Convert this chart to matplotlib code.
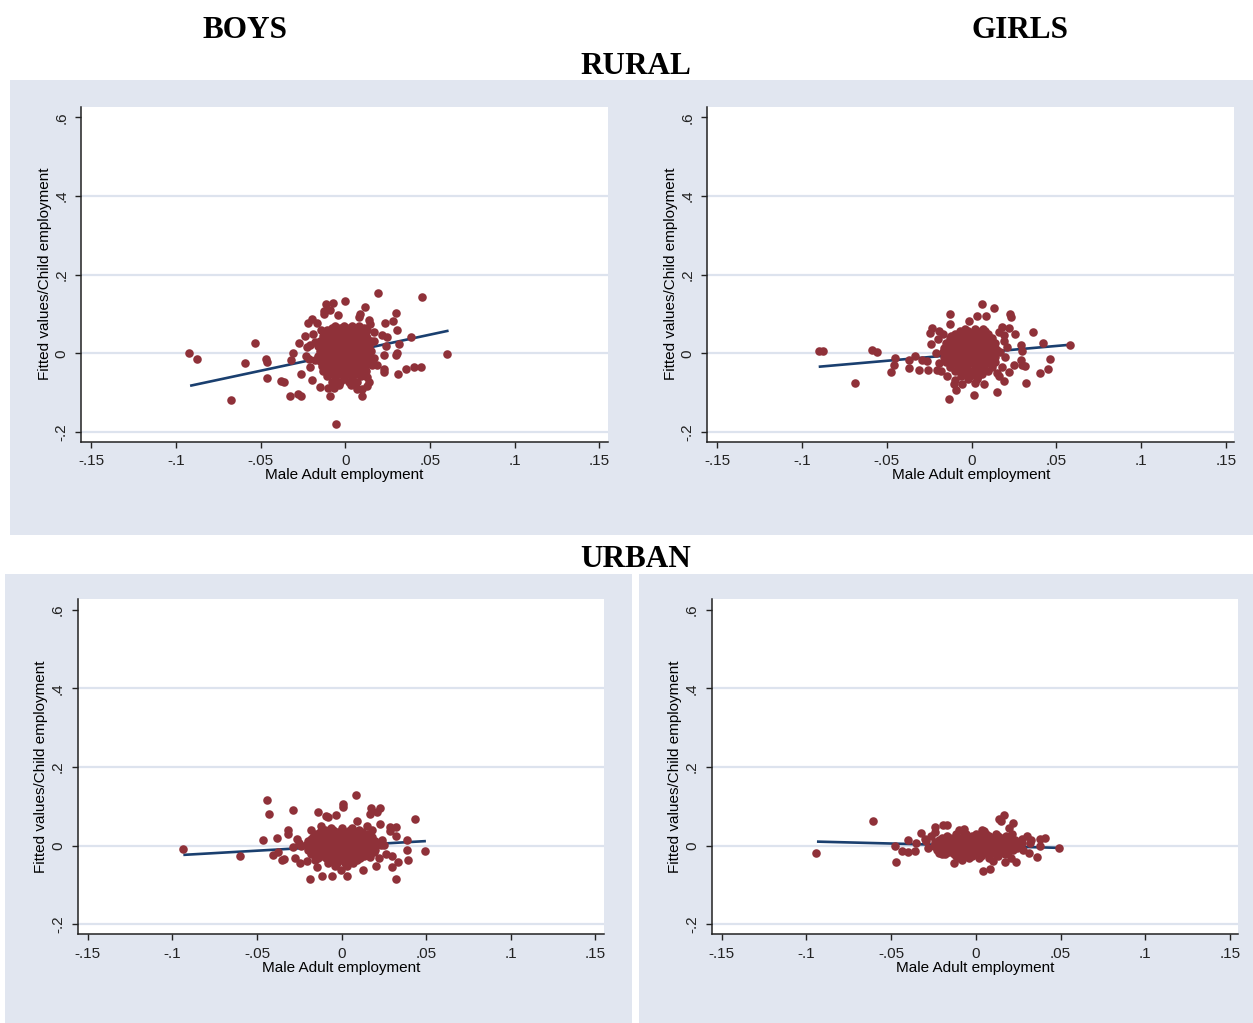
import matplotlib.pyplot as plt
from matplotlib.patches import Rectangle
import numpy as np

BG = "#e1e6f0"
GRID = "#dde3ee"
MAROON = "#8f3139"
NAVY = "#1a3f6f"

x_ticks = [-0.15, -0.1, -0.05, 0, 0.05, 0.1, 0.15]
x_tick_labels = ["-.15", "-.1", "-.05", "0", ".05", ".1", ".15"]
y_ticks = [-0.2, 0, 0.2, 0.4, 0.6]
y_tick_labels = ["-.2", "0", ".2", ".4", ".6"]
grid_levels = [-0.2, 0, 0.2, 0.4]
x_title = "Male Adult employment"
y_title = "Fitted values/Child employment"

# (male adult employment, child employment)
rural_boys = [
    (-0.0922, 0.000), (-0.0876, -0.014), (-0.0678, -0.120), (-0.0593, -0.025), (-0.0532, 0.027),
    (-0.0470, -0.014), (-0.0462, -0.022), (-0.0465, -0.064), (-0.0379, -0.071), (-0.0364, -0.073),
    (-0.0325, -0.109), (-0.0280, -0.104), (-0.0262, -0.109), (-0.0321, -0.018), (-0.0309, 0.000),
    (-0.0276, 0.027), (-0.0264, -0.054), (-0.0240, 0.044), (-0.0219, 0.078), (-0.0195, 0.086),
    (-0.0169, 0.078), (-0.0193, 0.048), (-0.0228, 0.016), (-0.0232, -0.008), (-0.0212, -0.036),
    (-0.0200, -0.069), (-0.0153, -0.086), (-0.0128, 0.100), (-0.0126, 0.107), (-0.0112, 0.126),
    (-0.0073, 0.128), (-0.0090, 0.111), (-0.0045, 0.098), (-0.0004, 0.134), (-0.0147, 0.058),
    (-0.0102, -0.088), (-0.0092, -0.109), (-0.0065, -0.088), (-0.0057, -0.180), (0.0069, -0.092),
    (0.0100, -0.092), (0.0097, -0.109), (0.0128, -0.083), (0.0138, -0.074), (0.0113, 0.117),
    (0.0089, 0.100), (0.0081, 0.092), (0.0138, 0.085), (0.0144, 0.075), (0.0191, 0.153),
    (0.0455, 0.143), (0.0298, 0.103), (0.0280, 0.081), (0.0233, 0.078), (0.0306, 0.058),
    (0.0168, 0.054), (0.0217, 0.046), (0.0246, 0.042), (0.0388, 0.042), (0.0317, 0.023),
    (0.0302, 0.001), (0.0298, -0.005), (0.0240, 0.018), (0.0230, -0.005), (0.0226, -0.041),
    (0.0230, -0.047), (0.0171, -0.011), (0.0187, -0.031), (0.0158, -0.031), (0.0118, -0.039),
    (0.0128, -0.060), (0.0313, -0.053), (0.0356, -0.039), (0.0403, -0.035), (0.0445, -0.035),
    (0.0601, -0.003), (0.0168, 0.031), (0.0108, 0.058), (-0.0207, 0.020), (-0.0177, 0.029),
    (-0.0177, -0.018), (-0.0216, -0.014),
    # dense core
    (-0.006, 0.070), (-0.001, 0.070), (0.004, 0.070), (0.008, 0.070),
    (-0.008, 0.064), (-0.003, 0.064), (0.002, 0.064), (0.006, 0.064), (0.011, 0.064),
    (-0.011, 0.058), (-0.006, 0.058), (-0.001, 0.058), (0.004, 0.058), (0.009, 0.058), (0.013, 0.058),
    (-0.010, 0.051), (-0.005, 0.051), (0.000, 0.051), (0.005, 0.051), (0.010, 0.051),
    (-0.013, 0.045), (-0.008, 0.045), (-0.003, 0.045), (0.002, 0.045), (0.007, 0.045), (0.012, 0.045),
    (-0.012, 0.038), (-0.007, 0.038), (-0.002, 0.038), (0.003, 0.038), (0.008, 0.038), (0.013, 0.038),
    (-0.015, 0.032), (-0.010, 0.032), (-0.005, 0.032), (0.000, 0.032), (0.005, 0.032), (0.010, 0.032), (0.015, 0.032),
    (-0.013, 0.025), (-0.008, 0.025), (-0.003, 0.025), (0.002, 0.025), (0.007, 0.025), (0.012, 0.025),
    (-0.016, 0.019), (-0.011, 0.019), (-0.006, 0.019), (-0.001, 0.019), (0.004, 0.019), (0.009, 0.019), (0.014, 0.019),
    (-0.013, 0.012), (-0.008, 0.012), (-0.003, 0.012), (0.002, 0.012), (0.007, 0.012), (0.012, 0.012),
    (-0.015, 0.006), (-0.010, 0.006), (-0.005, 0.006), (0.000, 0.006), (0.005, 0.006), (0.010, 0.006), (0.015, 0.006),
    (-0.013, -0.001), (-0.008, -0.001), (-0.003, -0.001), (0.002, -0.001), (0.007, -0.001), (0.012, -0.001),
    (-0.016, -0.007), (-0.011, -0.007), (-0.006, -0.007), (-0.001, -0.007), (0.004, -0.007), (0.009, -0.007), (0.014, -0.007),
    (-0.013, -0.014), (-0.008, -0.014), (-0.003, -0.014), (0.002, -0.014), (0.007, -0.014), (0.012, -0.014),
    (-0.015, -0.020), (-0.010, -0.020), (-0.005, -0.020), (0.000, -0.020), (0.005, -0.020), (0.010, -0.020), (0.015, -0.020),
    (-0.012, -0.027), (-0.007, -0.027), (-0.002, -0.027), (0.003, -0.027), (0.008, -0.027), (0.013, -0.027),
    (-0.014, -0.033), (-0.009, -0.033), (-0.004, -0.033), (0.001, -0.033), (0.006, -0.033), (0.011, -0.033),
    (-0.011, -0.040), (-0.006, -0.040), (-0.001, -0.040), (0.004, -0.040), (0.009, -0.040),
    (-0.013, -0.046), (-0.008, -0.046), (-0.003, -0.046), (0.002, -0.046), (0.007, -0.046), (0.012, -0.046),
    (-0.009, -0.053), (-0.004, -0.053), (0.001, -0.053), (0.006, -0.053), (0.011, -0.053),
    (-0.011, -0.059), (-0.006, -0.059), (-0.001, -0.059), (0.004, -0.059), (0.009, -0.059),
    (-0.006, -0.066), (-0.001, -0.066), (0.004, -0.066),
    (-0.008, -0.072), (-0.003, -0.072), (0.002, -0.072), (0.007, -0.072),
    (-0.004, -0.080), (0.003, -0.080),
]
rural_boys_fit = [(-0.0917, -0.0827), (0.0609, 0.0574)]

rural_girls = [
    (-0.0899, 0.005), (-0.0878, 0.005), (-0.0688, -0.076), (-0.0586, 0.009), (-0.0555, 0.003),
    (-0.0452, -0.013), (-0.0458, -0.030), (-0.0478, -0.047), (-0.0371, -0.018), (-0.0371, -0.038),
    (-0.0335, -0.006), (-0.0311, -0.043), (-0.0256, -0.043), (-0.0201, -0.043), (-0.0292, -0.016),
    (-0.0262, -0.020), (-0.0240, 0.023), (-0.0243, 0.051), (-0.0231, 0.065), (-0.0195, 0.057),
    (-0.0130, 0.099), (-0.0126, 0.075), (-0.0146, -0.058), (-0.0132, -0.117), (-0.0095, -0.067),
    (-0.0101, -0.079), (-0.0093, -0.094), (-0.0059, -0.079), (0.0022, -0.076), (0.0016, -0.106),
    (0.0075, -0.079), (0.0061, 0.124), (0.0130, 0.116), (0.0088, 0.095), (0.0030, 0.095),
    (-0.0016, 0.082), (0.0225, 0.099), (0.0235, 0.093), (0.0149, -0.099), (0.0190, -0.070),
    (0.0163, -0.057), (0.0222, -0.047), (0.0250, -0.031), (0.0254, 0.049), (0.0293, 0.022),
    (0.0300, 0.007), (0.0293, -0.016), (0.0300, -0.030), (0.0313, -0.032), (0.0323, -0.075),
    (0.0363, 0.054), (0.0420, 0.027), (0.0462, -0.014), (0.0450, -0.039), (0.0404, -0.050),
    (0.0582, 0.022), (0.0190, 0.046), (0.0180, 0.067), (0.0220, 0.063),
    (-0.020, 0.035), (-0.021, 0.000), (-0.019, -0.025), (0.019, 0.030), (0.020, -0.010),
    (0.021, 0.015), (0.018, -0.035), (-0.017, 0.050), (0.016, 0.055), (-0.018, -0.045), (0.015, -0.050),
    # dense core
    (-0.004, 0.062), (0.002, 0.062), (0.007, 0.062),
    (-0.007, 0.056), (-0.002, 0.056), (0.003, 0.056), (0.008, 0.056),
    (-0.010, 0.050), (-0.005, 0.050), (0.000, 0.050), (0.005, 0.050), (0.010, 0.050),
    (-0.012, 0.044), (-0.007, 0.044), (-0.002, 0.044), (0.003, 0.044), (0.008, 0.044),
    (-0.013, 0.038), (-0.008, 0.038), (-0.003, 0.038), (0.002, 0.038), (0.007, 0.038), (0.012, 0.038),
    (-0.012, 0.032), (-0.007, 0.032), (-0.002, 0.032), (0.003, 0.032), (0.008, 0.032), (0.012, 0.032),
    (-0.015, 0.026), (-0.010, 0.026), (-0.005, 0.026), (0.000, 0.026), (0.005, 0.026), (0.010, 0.026), (0.014, 0.026),
    (-0.013, 0.020), (-0.008, 0.020), (-0.003, 0.020), (0.002, 0.020), (0.007, 0.020), (0.012, 0.020),
    (-0.016, 0.014), (-0.011, 0.014), (-0.006, 0.014), (-0.001, 0.014), (0.004, 0.014), (0.009, 0.014), (0.014, 0.014),
    (-0.014, 0.008), (-0.009, 0.008), (-0.004, 0.008), (0.001, 0.008), (0.006, 0.008), (0.011, 0.008), (0.015, 0.008),
    (-0.017, 0.002), (-0.012, 0.002), (-0.007, 0.002), (-0.002, 0.002), (0.003, 0.002), (0.008, 0.002), (0.013, 0.002), (0.017, 0.002),
    (-0.014, -0.004), (-0.009, -0.004), (-0.004, -0.004), (0.001, -0.004), (0.006, -0.004), (0.011, -0.004),
    (-0.016, -0.010), (-0.011, -0.010), (-0.006, -0.010), (-0.001, -0.010), (0.004, -0.010), (0.009, -0.010), (0.014, -0.010),
    (-0.013, -0.016), (-0.008, -0.016), (-0.003, -0.016), (0.002, -0.016), (0.007, -0.016), (0.012, -0.016),
    (-0.015, -0.022), (-0.010, -0.022), (-0.005, -0.022), (0.000, -0.022), (0.005, -0.022), (0.010, -0.022), (0.014, -0.022),
    (-0.012, -0.028), (-0.007, -0.028), (-0.002, -0.028), (0.003, -0.028), (0.008, -0.028), (0.012, -0.028),
    (-0.013, -0.034), (-0.008, -0.034), (-0.003, -0.034), (0.002, -0.034), (0.007, -0.034), (0.012, -0.034),
    (-0.008, -0.040), (-0.003, -0.040), (0.002, -0.040), (0.007, -0.040),
    (-0.010, -0.046), (-0.005, -0.046), (0.000, -0.046), (0.005, -0.046), (0.010, -0.046),
    (-0.004, -0.052), (0.001, -0.052), (0.006, -0.052),
    (-0.006, -0.058), (-0.001, -0.058), (0.004, -0.058),
    (-0.002, -0.066), (0.003, -0.066),
]
rural_girls_fit = [(-0.0902, -0.0343), (0.0578, 0.0215)]

urban_boys = [
    (-0.0938, -0.009), (-0.0599, -0.027), (-0.0440, 0.115), (-0.0431, 0.080), (-0.0467, 0.014),
    (-0.0381, 0.020), (-0.0405, -0.024), (-0.0377, -0.015), (-0.0355, -0.036), (-0.0341, -0.033),
    (-0.0319, 0.031), (-0.0319, 0.041), (-0.0290, 0.090), (-0.0262, 0.016), (-0.0252, 0.008),
    (-0.0287, -0.002), (-0.0273, -0.031), (-0.0245, -0.044), (-0.0203, -0.038), (-0.0186, -0.085),
    (-0.0142, 0.087), (-0.0144, -0.054), (-0.0114, -0.076), (-0.0058, -0.076), (-0.0095, 0.075),
    (-0.0079, 0.073), (-0.0035, 0.079), (0.0011, 0.106), (0.0011, 0.098), (0.0087, 0.130),
    (0.0029, -0.076), (-0.0001, -0.061), (0.0124, -0.061), (0.0089, 0.062), (0.0172, 0.095),
    (0.0168, 0.081), (0.0226, 0.095), (0.0212, 0.087), (0.0228, 0.056), (0.0285, 0.047),
    (0.0322, 0.047), (0.0285, 0.037), (0.0324, 0.024), (0.0300, -0.025), (0.0300, -0.053),
    (0.0336, -0.041), (0.0320, -0.085), (0.0387, 0.015), (0.0385, -0.012), (0.0391, -0.036),
    (0.0433, 0.068), (0.0492, -0.014), (0.0251, 0.003), (0.0261, -0.020), (0.0201, -0.051),
    (0.0168, -0.028),
    (-0.018, 0.040), (-0.016, -0.035), (0.018, 0.040), (0.022, -0.030), (0.015, 0.050),
    (-0.012, 0.050), (0.024, 0.015), (-0.024, 0.000),
    # dense core
    (-0.006, 0.045), (0.000, 0.045), (0.006, 0.045),
    (-0.010, 0.040), (-0.005, 0.040), (0.000, 0.040), (0.005, 0.040), (0.010, 0.040),
    (-0.013, 0.034), (-0.008, 0.034), (-0.003, 0.034), (0.002, 0.034), (0.007, 0.034), (0.012, 0.034),
    (-0.015, 0.029), (-0.010, 0.029), (-0.005, 0.029), (0.000, 0.029), (0.005, 0.029), (0.010, 0.029), (0.015, 0.029),
    (-0.017, 0.023), (-0.012, 0.023), (-0.007, 0.023), (-0.002, 0.023), (0.003, 0.023), (0.008, 0.023), (0.013, 0.023), (0.018, 0.023),
    (-0.018, 0.018), (-0.013, 0.018), (-0.008, 0.018), (-0.003, 0.018), (0.002, 0.018), (0.007, 0.018), (0.012, 0.018), (0.017, 0.018),
    (-0.020, 0.012), (-0.015, 0.012), (-0.010, 0.012), (-0.005, 0.012), (0.000, 0.012), (0.005, 0.012), (0.010, 0.012), (0.015, 0.012), (0.020, 0.012),
    (-0.018, 0.007), (-0.013, 0.007), (-0.008, 0.007), (-0.003, 0.007), (0.002, 0.007), (0.007, 0.007), (0.012, 0.007), (0.017, 0.007), (0.022, 0.007),
    (-0.021, 0.001), (-0.016, 0.001), (-0.011, 0.001), (-0.006, 0.001), (-0.001, 0.001), (0.004, 0.001), (0.009, 0.001), (0.014, 0.001), (0.019, 0.001), (0.023, 0.001),
    (-0.018, -0.004), (-0.013, -0.004), (-0.008, -0.004), (-0.003, -0.004), (0.002, -0.004), (0.007, -0.004), (0.012, -0.004), (0.017, -0.004),
    (-0.020, -0.010), (-0.015, -0.010), (-0.010, -0.010), (-0.005, -0.010), (0.000, -0.010), (0.005, -0.010), (0.010, -0.010), (0.015, -0.010), (0.020, -0.010),
    (-0.016, -0.015), (-0.011, -0.015), (-0.006, -0.015), (-0.001, -0.015), (0.004, -0.015), (0.009, -0.015), (0.014, -0.015), (0.019, -0.015),
    (-0.018, -0.021), (-0.013, -0.021), (-0.008, -0.021), (-0.003, -0.021), (0.002, -0.021), (0.007, -0.021), (0.012, -0.021), (0.017, -0.021),
    (-0.012, -0.026), (-0.007, -0.026), (-0.002, -0.026), (0.003, -0.026), (0.008, -0.026), (0.013, -0.026),
    (-0.014, -0.032), (-0.009, -0.032), (-0.004, -0.032), (0.001, -0.032), (0.006, -0.032), (0.011, -0.032),
    (-0.006, -0.037), (-0.001, -0.037), (0.004, -0.037), (0.009, -0.037),
    (-0.008, -0.043), (-0.003, -0.043), (0.002, -0.043), (0.007, -0.043),
    (-0.004, -0.052), (0.003, -0.052),
]
urban_boys_fit = [(-0.0935, -0.0232), (0.0498, 0.0118)]

urban_girls = [
    (-0.0943, -0.019), (-0.0608, 0.063), (-0.0469, -0.042), (-0.0475, 0.000), (-0.0434, -0.013),
    (-0.0398, -0.017), (-0.0400, 0.014), (-0.0361, -0.014), (-0.0353, 0.008), (-0.0322, 0.032),
    (-0.0292, 0.011), (-0.0266, 0.025), (-0.0243, 0.047), (-0.0239, 0.036), (-0.0194, 0.052),
    (-0.0168, 0.052), (-0.0197, -0.021), (-0.0130, -0.044), (-0.0073, 0.043), (0.0040, -0.065),
    (0.0083, -0.058), (0.0038, 0.041), (0.0138, 0.068), (0.0166, 0.077), (0.0148, 0.064),
    (0.0221, 0.059), (0.0197, 0.044), (0.0213, 0.030), (0.0172, -0.042), (0.0205, -0.031),
    (0.0237, -0.042), (0.0300, 0.026), (0.0326, 0.015), (0.0320, 0.008), (0.0376, 0.017),
    (0.0410, 0.020), (0.0379, 0.000), (0.0312, -0.019), (0.0363, -0.028), (0.0488, -0.006),
    (0.0270, 0.008),
    (-0.028, -0.005), (-0.030, 0.018), (-0.022, -0.018), (0.028, -0.010), (0.027, 0.018),
    (0.010, -0.040), (-0.008, -0.035), (-0.010, 0.040), (0.005, 0.038),
    # dense core
    (-0.012, 0.030), (-0.006, 0.030), (0.000, 0.030), (0.006, 0.030), (0.012, 0.030),
    (-0.017, 0.025), (-0.012, 0.025), (-0.007, 0.025), (-0.002, 0.025), (0.003, 0.025), (0.008, 0.025), (0.013, 0.025), (0.018, 0.025),
    (-0.020, 0.020), (-0.015, 0.020), (-0.010, 0.020), (-0.005, 0.020), (0.000, 0.020), (0.005, 0.020), (0.010, 0.020), (0.015, 0.020), (0.020, 0.020),
    (-0.022, 0.015), (-0.017, 0.015), (-0.012, 0.015), (-0.007, 0.015), (-0.002, 0.015), (0.003, 0.015), (0.008, 0.015), (0.013, 0.015), (0.018, 0.015), (0.023, 0.015),
    (-0.024, 0.010), (-0.019, 0.010), (-0.014, 0.010), (-0.009, 0.010), (-0.004, 0.010), (0.001, 0.010), (0.006, 0.010), (0.011, 0.010), (0.016, 0.010), (0.021, 0.010), (0.025, 0.010),
    (-0.022, 0.005), (-0.017, 0.005), (-0.012, 0.005), (-0.007, 0.005), (-0.002, 0.005), (0.003, 0.005), (0.008, 0.005), (0.013, 0.005), (0.018, 0.005), (0.023, 0.005),
    (-0.025, 0.000), (-0.020, 0.000), (-0.015, 0.000), (-0.010, 0.000), (-0.005, 0.000), (0.000, 0.000), (0.005, 0.000), (0.010, 0.000), (0.015, 0.000), (0.020, 0.000), (0.025, 0.000),
    (-0.021, -0.005), (-0.016, -0.005), (-0.011, -0.005), (-0.006, -0.005), (-0.001, -0.005), (0.004, -0.005), (0.009, -0.005), (0.014, -0.005), (0.019, -0.005), (0.024, -0.005),
    (-0.023, -0.010), (-0.018, -0.010), (-0.013, -0.010), (-0.008, -0.010), (-0.003, -0.010), (0.002, -0.010), (0.007, -0.010), (0.012, -0.010), (0.017, -0.010), (0.022, -0.010),
    (-0.016, -0.015), (-0.011, -0.015), (-0.006, -0.015), (-0.001, -0.015), (0.004, -0.015), (0.009, -0.015), (0.014, -0.015), (0.019, -0.015),
    (-0.018, -0.020), (-0.013, -0.020), (-0.008, -0.020), (-0.003, -0.020), (0.002, -0.020), (0.007, -0.020), (0.012, -0.020), (0.017, -0.020),
    (-0.012, -0.025), (-0.007, -0.025), (-0.002, -0.025), (0.003, -0.025), (0.008, -0.025), (0.013, -0.025),
    (-0.010, -0.030), (-0.004, -0.030), (0.002, -0.030), (0.008, -0.030),
]
urban_girls_fit = [(-0.0938, 0.0105), (0.0477, -0.0052)]


def draw_panel(fig, rect, pts, fit):
    ax = fig.add_axes(rect, facecolor="white")
    for lvl in grid_levels:
        ax.axhline(lvl, color=GRID, lw=1.6, zorder=1)
    fx, fy = np.array(fit).T
    ax.plot(fx, fy, color=NAVY, lw=1.9, zorder=2, solid_capstyle="butt")
    x, y = np.array(pts).T
    ax.scatter(x, y, s=38, color=MAROON, linewidths=0, zorder=3)
    ax.set_xlim(-0.156, 0.155)
    ax.set_ylim(-0.225, 0.627)
    ax.set_xticks(x_ticks)
    ax.set_xticklabels(x_tick_labels)
    ax.set_yticks(y_ticks)
    ax.set_yticklabels(y_tick_labels, rotation=90, va="center")
    ax.tick_params(direction="out", length=4, width=1, colors="#222222",
                   labelsize=11, pad=5)
    ax.tick_params(axis="y", pad=5)
    for side in ("top", "right"):
        ax.spines[side].set_visible(False)
    for side in ("left", "bottom"):
        ax.spines[side].set_color("#222222")
        ax.spines[side].set_linewidth(1.1)
    ax.set_xlabel(x_title, fontsize=11, labelpad=0)
    ax.set_ylabel(y_title, fontsize=11, labelpad=2)
    return ax


plt.rcParams["font.family"] = ["Liberation Sans", "DejaVu Sans"]
fig = plt.figure(figsize=(12.53, 10.23), dpi=100)

# grey graph regions behind the panels
fig.add_artist(Rectangle((0.008, 0.477), 0.992, 0.4448, transform=fig.transFigure,
                         facecolor=BG, edgecolor="none", zorder=-1))
fig.add_artist(Rectangle((0.004, 0.0), 0.5004, 0.4389, transform=fig.transFigure,
                         facecolor=BG, edgecolor="none", zorder=-1))
fig.add_artist(Rectangle((0.51, 0.0), 0.49, 0.4389, transform=fig.transFigure,
                         facecolor=BG, edgecolor="none", zorder=-1))

draw_panel(fig, [0.0648, 0.5682, 0.4204, 0.3275], rural_boys, rural_boys_fit)
draw_panel(fig, [0.5644, 0.5682, 0.4206, 0.3275], rural_girls, rural_girls_fit)
draw_panel(fig, [0.0619, 0.0867, 0.4201, 0.3278], urban_boys, urban_boys_fit)
draw_panel(fig, [0.5679, 0.0867, 0.4205, 0.3278], urban_girls, urban_girls_fit)

title_kw = dict(family=["Liberation Serif", "DejaVu Serif"], weight="bold",
                fontsize=22.5, ha="center", va="center")
fig.text(0.1955, 0.9706, "BOYS", **title_kw)
fig.text(0.814, 0.9706, "GIRLS", **title_kw)
fig.text(0.5076, 0.9354, "RURAL", **title_kw)
fig.text(0.5076, 0.4535, "URBAN", **title_kw)

fig.savefig("out.png", dpi=100)
